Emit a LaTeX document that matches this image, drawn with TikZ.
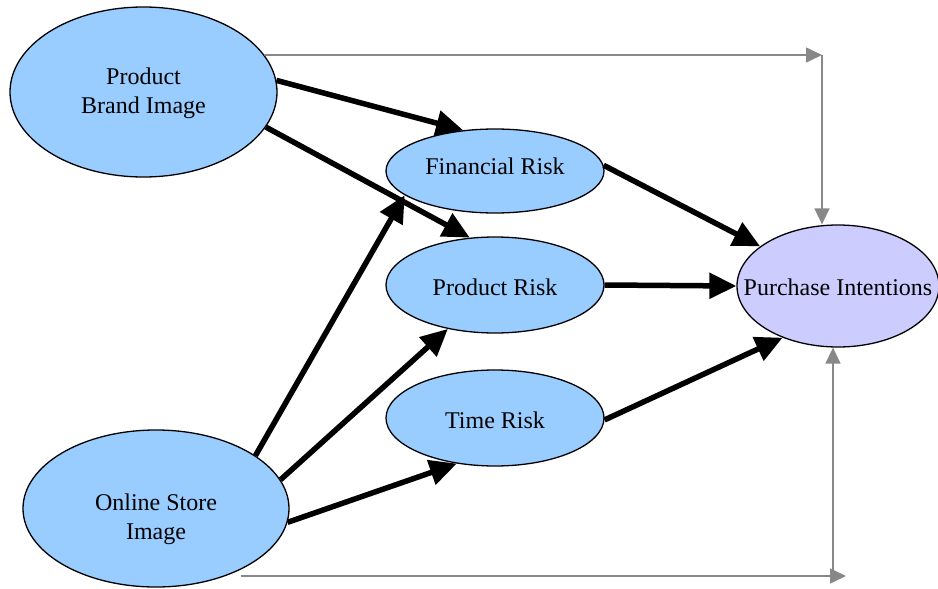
\documentclass[tikz,border=0pt]{standalone}
\usepackage{fontspec}
\setmainfont{Liberation Serif}
\usetikzlibrary{shapes.geometric,arrows.meta}
\definecolor{nodeblue}{HTML}{99CCFF}
\definecolor{nodepurple}{HTML}{CCCCFF}
\definecolor{linegray}{HTML}{888888}
\newcommand{\zwtext}[2][0pt]{\raisebox{#1}[\height][\depth]{\makebox[0pt]{\begin{tabular}{@{}c@{}}#2\end{tabular}}}}
\begin{document}
\begin{tikzpicture}[x=1pt,y=-1pt,
  latent/.style={ellipse,draw=black,line width=1.3pt,fill=nodeblue,inner sep=0pt,
    font=\fontsize{24}{29}\selectfont},
  outcome/.style={latent,fill=nodepurple},
  mainpath/.style={line width=5.5pt,-{Triangle[length=27pt,width=25pt]}},
  directpath/.style={draw=linegray,line width=1.6pt,-{Triangle[length=16pt,width=15pt]}}]
\useasboundingbox (0,0) rectangle (938,589);
% nodes
\node[latent,minimum width=267pt,minimum height=170pt] (pbi) at (143.5,92) {\zwtext[-1pt]{Product\\Brand Image}};
\node[latent,minimum width=266pt,minimum height=157pt] (osi) at (156,508.5) {\zwtext[-11pt]{Online Store\\Image}};
\node[latent,minimum width=218pt,minimum height=84pt] (fr) at (495,171) {\zwtext[2pt]{Financial Risk}};
\node[latent,minimum width=218pt,minimum height=96pt] (pr) at (495,285) {\zwtext[-5pt]{Product Risk}};
\node[latent,minimum width=218pt,minimum height=96pt] (tr) at (495,418) {\zwtext[-5pt]{Time Risk}};
\node[outcome,minimum width=202pt,minimum height=122pt] (pi) at (838,286) {\zwtext[-4pt]{Purchase Intentions}};
% corner coordinates for the direct paths
\coordinate (ctop) at (822,55);
\coordinate (cbs) at (241,576);
\coordinate (cbe) at (846,576);
\coordinate (cbv) at (833,576);
% mediated paths
\draw[mainpath] (pbi.5) -- (fr.128);
\draw[mainpath] (pbi.-16.5) -- (pr.118);
\draw[mainpath] (osi.28.6) -- (fr.195);
\draw[mainpath] (osi.13.6) -- (pr.223);
\draw[mainpath] (osi.-6) -- (tr.230);
\draw[mainpath] (fr.3) -- (pi.153);
\draw[mainpath] (pr.east) -- (pi.west);
\draw[mainpath] (tr.-1) -- (pi.223);
% direct paths
\draw[directpath] (pbi.17) -- (ctop);
\draw[directpath] (ctop) -- (ctop |- pi.north);
\draw[directpath] (cbs) -- (cbe);
\draw[directpath] (cbv) -- (cbv |- pi.south);
\end{tikzpicture}
\end{document}
